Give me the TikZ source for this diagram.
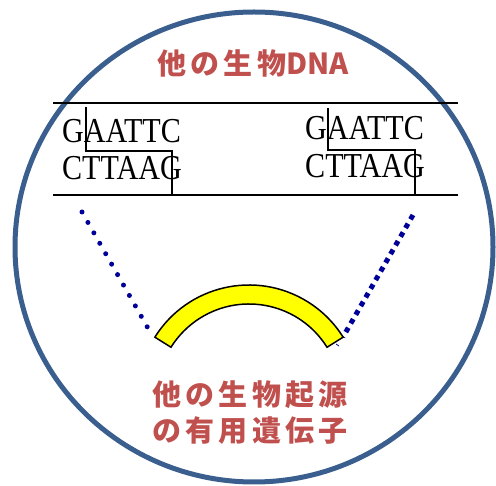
\documentclass[tikz,border=0pt]{standalone}
\usepackage{fontspec}
\setmainfont{Liberation Serif}
\newfontfamily\cjk[LetterSpace=15]{Noto Sans CJK JP}
\newfontfamily\cjklatin{Noto Sans CJK JP}
\definecolor{ringblue}{HTML}{3A5F8F}
\definecolor{titlered}{HTML}{C0504D}
\definecolor{dotblue}{HTML}{000099}
\definecolor{bandyellow}{HTML}{FFFF00}
\begin{document}
\begin{tikzpicture}[x=1pt,y=-1pt,
  ring/.style={draw=ringblue,line width=5pt},
  rail/.style={draw=black,line width=1.5pt},
  cut/.style={draw=black,line width=1.2pt},
  seq/.style={font=\fontsize{35}{38}\selectfont,xscale=0.86,anchor=base west,inner sep=0pt},
  label/.style={text=titlered,font=\cjk\bfseries\fontsize{29}{36}\selectfont,align=center,inner sep=0pt},
  rounddots/.style={draw=dotblue,line width=5pt,line cap=round,dash pattern=on 0pt off 12pt},
  squaredots/.style={draw=dotblue,line width=5pt,line cap=butt,dash pattern=on 5pt off 5pt},
  band/.style={draw=black,line width=1.5pt,fill=bandyellow}]
\useasboundingbox (0,0) rectangle (496,486);
% outer ring
\draw[ring] (254,247) ellipse [x radius=239, y radius=235];
% titles
\node[label] (title) at (253,63) {他の生物{\cjklatin\bfseries DNA}};
\node[label] (gene) at (250,413) {他の生物起源\\の有用遺伝子};
% DNA rails
\coordinate (tl) at (53,103);
\coordinate (tr) at (458,103);
\coordinate (bl) at (53,195);
\coordinate (br) at (458,195);
\draw[rail] (tl) -- (tr);
\draw[rail] (bl) -- (br);
% sequences
\node[seq] (s1a) at (62,143) {GAATTC};
\node[seq] (s1b) at (62,180) {CTTAAG};
\node[seq] (s2a) at (305,140) {GAATTC};
\node[seq] (s2b) at (305,178) {CTTAAG};
% cut marks
\draw[cut] (86,107) -- (86,151) -- (172,151) -- (172,195);
\draw[cut] (328,108) -- (328,150) -- (415,150) -- (415,195);
% dotted guides
\coordinate (d1a) at (82,212);
\coordinate (d1b) at (153,337);
\coordinate (d2a) at (413,215);
\coordinate (d2b) at (343,337);
\draw[rounddots] (d1a) -- (d1b);
\draw[squaredots] (d2a) -- (d2b);
\draw[dotblue,line width=0.8pt] (336,344) -- (339,346);
% gene band
\draw[band] ([shift={(212:111)}]249,396) arc[start angle=212,end angle=328,radius=111]
  -- ([shift={(328:92)}]249,396) arc[start angle=328,end angle=212,radius=92] -- cycle;
\end{tikzpicture}
\end{document}
